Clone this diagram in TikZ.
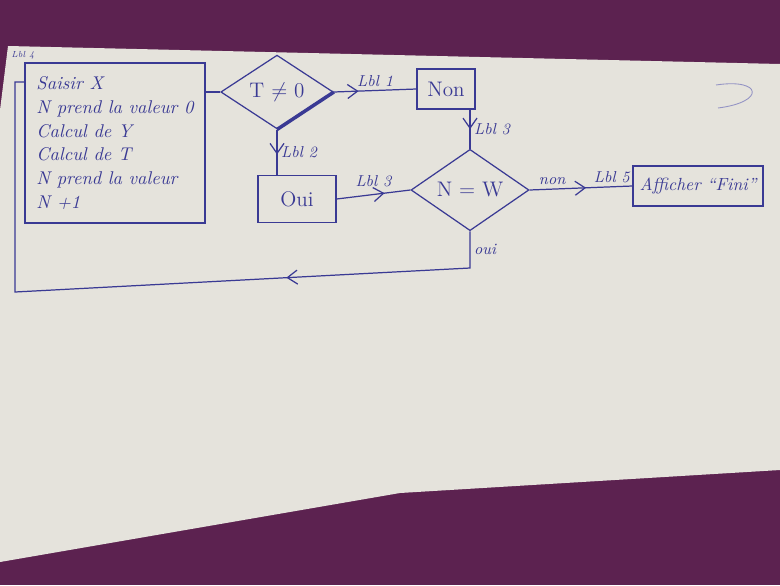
\documentclass[tikz,border=0pt]{standalone}
\usepackage{amsmath,amssymb}
\usepackage{tikz}
\usetikzlibrary{arrows.meta,shapes.geometric,decorations.markings}
\usepackage{xcolor}
\definecolor{ink}{RGB}{58,58,148}
\definecolor{paper}{RGB}{229,227,220}
\definecolor{desk}{RGB}{92,34,80}

\begin{document}
\begin{tikzpicture}[x=0.02cm,y=-0.02cm,
  inkline/.style={draw=ink,line width=0.7pt},
  box/.style={draw=ink,line width=0.7pt,text=ink,font=\itshape,inner sep=2pt},
  test/.style={diamond,draw=ink,line width=0.7pt,text=ink,font=\large,inner sep=0pt},
  lbl/.style={text=ink,font=\itshape\small,inner sep=2pt},
  midarrow/.style={postaction={decorate},decoration={markings,mark=at position #1 with {\arrow{Straight Barb[length=2mm,width=2.8mm]}}}}]
\fill[desk] (0,0) rectangle (780,585);
\fill[paper] (8,46) -- (780,64) -- (780,470) -- (400,493) -- (0,562) -- (0,110) -- cycle;
\node[box,minimum width=3.6cm,minimum height=3.2cm,align=left,font=\itshape\fontsize{10.5}{13.6}\selectfont] (block) at (115,143) {Saisir X\\N prend la valeur 0\\Calcul de Y\\Calcul de T\\N prend la valeur\\N +1};
\node[lbl,font=\itshape\tiny,inner sep=0pt,anchor=west] (lbl4) at (11,55) {Lbl 4};
\node[test,minimum width=2.25cm,minimum height=1.12cm] (td) at (277,92) {T $\neq$ 0};
\node[box,minimum width=1.16cm,minimum height=0.8cm,font=\large] (non) at (446,89) {Non};
\node[box,minimum width=1.56cm,minimum height=0.94cm,font=\large] (oui) at (297,199) {Oui};
\node[test,minimum width=2.36cm,minimum height=1.36cm] (nw) at (470,190) {N = W};
\node[box,minimum width=2.6cm,minimum height=0.8cm] (aff) at (698,186) {Afficher ``Fini''};
\coordinate (loopr) at (470,268);
\coordinate (loopl) at (15,292);
\coordinate (loopt) at (15,82);
\draw[inkline] (block.east |- td.west) -- (td.west);
\draw[ink,line width=2pt] (td.east) -- (td.south);
\draw[inkline,midarrow=0.3] (td.east) -- (non.west) node[lbl,midway,above] {Lbl 1};
\draw[inkline,midarrow=0.55] (td.south) -- (td.south |- oui.north) node[lbl,midway,right] {Lbl 2};
\draw[inkline,midarrow=0.5] (nw.north |- non.south) -- (nw.north) node[lbl,midway,right] {Lbl 3};
\draw[inkline,midarrow=0.65] (oui.east) -- (nw.west) node[lbl,midway,above=2pt] {Lbl 3};
\draw[inkline,midarrow=0.55] (nw.east) -- (aff.west) node[lbl,pos=0.22,above] {non} node[lbl,pos=0.8,above] {Lbl 5};
\draw[inkline,midarrow=0.31] (nw.south) -- (loopr) node[lbl,midway,right] {oui} -- (loopl) -- (loopt) -- (block.west |- loopt);
\draw[ink!55,line width=0.5pt] (716,85) .. controls (762,78) and (766,102) .. (718,108);
\end{tikzpicture}
\end{document}
